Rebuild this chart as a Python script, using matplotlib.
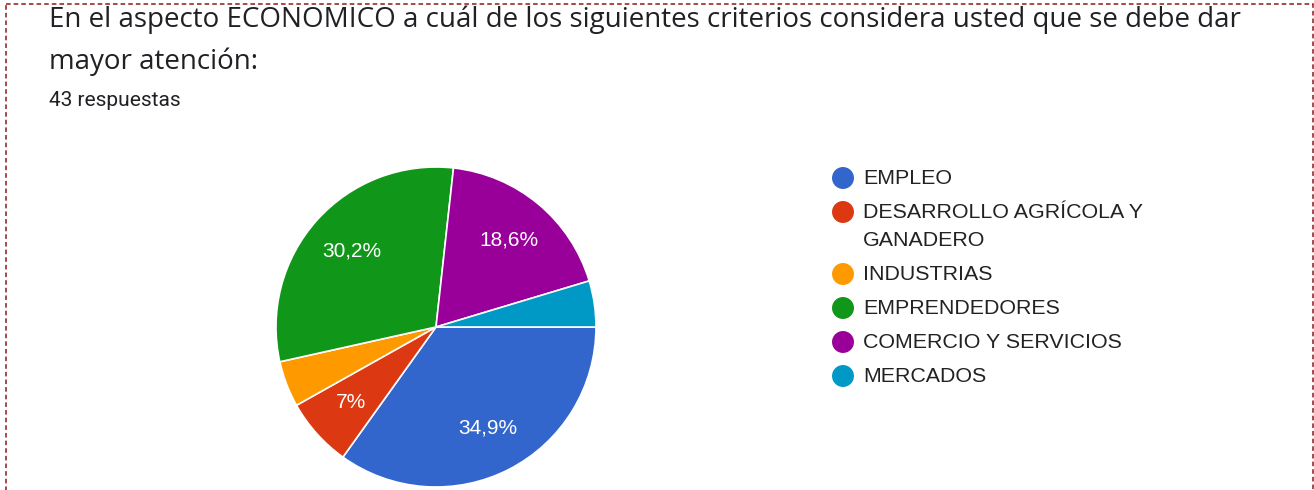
import matplotlib.pyplot as plt
from matplotlib.patches import Rectangle

plt.rcParams['font.family'] = ['Liberation Sans', 'DejaVu Sans']

# data
labels = ['EMPLEO', 'DESARROLLO AGRÍCOLA Y\nGANADERO', 'INDUSTRIAS',
          'EMPRENDEDORES', 'COMERCIO Y SERVICIOS', 'MERCADOS']
counts = [15, 3, 2, 13, 8, 2]
pct_labels = ['34,9%', '7%', '', '30,2%', '18,6%', '']
colors = ['#3366cc', '#dc3912', '#ff9900', '#109618', '#990099', '#0099c6']

title_lines = ['En el aspecto ECONOMICO a cuál de los siguientes criterios considera usted que se debe dar',
               'mayor atención:']
subtitle = '43 respuestas'

W, H = 1314, 490
fig = plt.figure(figsize=(W / 100, H / 100), dpi=100)

# overlay axes in pixel coords for text, legend and border
ov = fig.add_axes([0, 0, 1, 1])
ov.set_xlim(0, W)
ov.set_ylim(H, 0)
ov.axis('off')

ov.add_patch(Rectangle((6, 4), 1307, 520, fill=False, edgecolor='#8b1a1a',
                       linestyle=(0, (3, 2)), linewidth=1.1, clip_on=False))

for k, ln in enumerate(title_lines):
    ov.text(49, 20 + 42 * k, ln, fontsize=20, color='#202124', va='center', ha='left',
            family=['Open Sans', 'DejaVu Sans'])
ov.text(49, 100, subtitle, fontsize=15, color='#202124', va='center', ha='left',
        family=['Roboto', 'DejaVu Sans'])

# legend
y = 178
for lab, c in zip(labels, colors):
    ov.scatter([843], [y], s=250, color=c, edgecolors='none')
    lines = lab.split('\n')
    for k, ln in enumerate(lines):
        ov.text(863, y + k * 28, ln, fontsize=15.4, color='#222222', va='center', ha='left')
    y += 34 + 28 * (len(lines) - 1)

# pie
cx, cy, r = 436, 327, 160
ax = fig.add_axes([(cx - r) / W, (H - cy - r) / H, 2 * r / W, 2 * r / H])
wedges, texts = ax.pie(counts, colors=colors, startangle=0, counterclock=False,
                       labels=pct_labels, labeldistance=0.71,
                       wedgeprops=dict(edgecolor='white', linewidth=1.2))
for t in texts:
    t.set_color('white')
    t.set_fontsize(15)
    t.set_ha('center')
    t.set_va('center')
ax.set_xlim(-1, 1)
ax.set_ylim(-1, 1)

fig.savefig('out.png', dpi=100)
